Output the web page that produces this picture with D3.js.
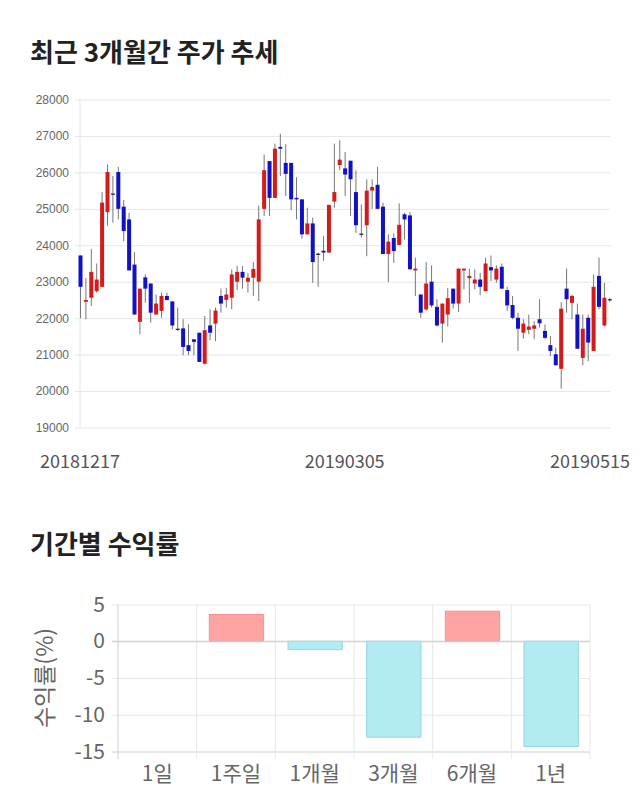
<!DOCTYPE html>
<html>
<head>
<meta charset="utf-8">
<script src="https://cdn.jsdelivr.net/npm/d3@7"></script>
<style>
  html, body { margin: 0; padding: 0; background: #fff; }
  svg { display: block; }
</style>
</head>
<body>
<svg id="chart" width="640" height="810"></svg>
<script>
// ---------- Data: candlestick (daily OHLC, 20181217 – 20190515) ----------
const opens  = [23720,22450,22560,22740,22860,24910,25420,26010,25060,24710,23470,21900,23120,22950,22100,22200,22610,22460,21710,21720,21260,21420,21600,20750,21800,21850,22610,22500,22560,23000,23270,23000,23110,23000,25000,26310,25300,26700,26260,26260,25300,25260,24300,24600,23770,23850,23800,25200,26200,26110,26320,25460,24320,24550,25500,25660,25060,23760,24200,24010,24850,24820,23310,22650,22240,23000,22310,21850,22100,22810,22400,23310,23100,22950,23060,22740,23400,23060,23410,22770,22360,22010,21600,21680,21710,21970,21650,21260,21010,20610,22810,22420,22100,20910,22010,21100,23160,21800,22520];
const highs  = [23720,23100,23900,23500,25460,26220,25900,26150,25240,24890,23810,22810,23200,22950,22650,22700,22700,22460,22290,21970,21830,21420,21600,22060,22240,22290,22810,22830,23340,23440,23430,23240,23540,25090,26490,26310,26790,27060,26770,26260,25870,25260,25030,24760,23800,24250,25110,26790,26880,26560,26320,26060,25120,25810,25810,26150,25170,24300,24330,25150,24890,24910,23660,22650,23540,23450,22520,22400,22830,22810,23360,23360,23360,23340,23240,23660,23720,23450,23500,22860,22610,22150,21970,22100,21920,22520,21830,21510,21190,22440,23360,22650,22400,22100,22100,23200,23660,22970,22560];
const lows   = [22000,21970,22330,22700,22860,24530,24620,24710,24110,23310,22100,21560,22420,21880,22100,22010,22480,21690,21650,20980,20980,20980,20800,20730,21400,21370,22150,22290,22240,22770,22810,22700,22610,22470,24800,24800,25300,25900,25350,24960,24710,24180,24300,22970,22860,23570,23800,25030,26060,25350,24800,24340,24210,23700,25000,25000,23760,22990,23520,24010,24160,23340,22610,22010,22200,22290,21770,21330,21770,22260,22170,22790,22420,22790,22630,22740,23020,22970,22810,22200,21970,21100,21440,21560,21420,21740,21420,20960,20690,20070,22150,21970,21160,20710,20820,21100,22240,21770,22450];
const closes = [22860,22500,23270,23060,25170,26010,25420,25000,24390,23310,22100,22810,22810,22150,22400,22610,22500,21800,21710,21210,21100,21350,20800,21670,21600,22210,22400,22650,23200,23270,23110,23110,23350,24710,26060,25300,26650,26650,25960,25260,25260,24300,24600,23540,23770,23800,25110,25460,26350,25940,25810,24550,24320,25500,25600,25000,23760,24100,23840,24560,24710,23340,23360,22150,22950,22350,21800,22400,22550,22400,23360,23360,23160,23060,22860,23500,23310,23360,22810,22350,22010,21710,21850,21770,21800,21860,21460,21100,20710,22260,22520,22610,21160,21710,21330,22860,22310,22560,22520];
const priceTicks = [19000,20000,21000,22000,23000,24000,25000,26000,27000,28000];
const dateLabels = [{i: 0, t: "20181217"}, {i: 49, t: "20190305"}, {i: 98, t: "20190515"}];

// ---------- Data: returns by period ----------
const periods = ["1일","1주일","1개월","3개월","6개월","1년"];
const returns = [0, 3.64, -1.14, -13.05, 4.09, -14.32];
const returnTicks = [5, 0, -5, -10, -15];

const svg = d3.select("#chart");
const KR = "'Noto Sans CJK KR', 'Noto Sans', sans-serif";

// ---------- Titles ----------
svg.append("text").attr("x", 30).attr("y", 62)
  .attr("font-family", KR).attr("font-weight", "bold").attr("font-size", 26)
  .attr("fill", "#222").text("최근 3개월간 주가 추세");
svg.append("text").attr("x", 30).attr("y", 554)
  .attr("font-family", KR).attr("font-weight", "bold").attr("font-size", 26)
  .attr("fill", "#222").text("기간별 수익률");

// ---------- Candlestick chart ----------
const cx0 = 80, cx1 = 610;
const idx = d3.range(opens.length);
const x = d3.scalePoint().domain(idx).range([80, 609.3]);
const y = d3.scaleLinear().domain([19000, 28000]).range([427.5, 99.5]);

const gTop = svg.append("g");
const yAxis = d3.axisLeft(y).tickValues(priceTicks).tickSize(-(cx1 - cx0 + 5)).tickPadding(6)
  .tickFormat(d3.format("d"));
const gy = gTop.append("g").attr("transform", `translate(${cx0 - 5},0)`).call(yAxis);
gy.select(".domain").remove();
gy.selectAll(".tick line").attr("stroke", "#e6e6e6");
gy.selectAll(".tick text").attr("font-family", "'Liberation Sans', Arial, sans-serif")
  .attr("font-size", 12).attr("fill", "#666");
gTop.append("line").attr("x1", cx0).attr("x2", cx0).attr("y1", 99.5).attr("y2", 427.5)
  .attr("stroke", "#e6e6e6");

gTop.selectAll("text.date").data(dateLabels).join("text")
  .attr("class", "date")
  .attr("x", d => Math.min(x(d.i), 630 - 40))
  .attr("y", 468)
  .attr("text-anchor", "middle")
  .attr("font-family", KR).attr("font-size", 18).attr("fill", "#555")
  .text(d => d.t);

const candleW = 4;
const cg = gTop.append("g");
cg.selectAll("line.wick").data(idx).join("line")
  .attr("class", "wick")
  .attr("x1", i => x(i) + 0.5).attr("x2", i => x(i) + 0.5)
  .attr("y1", i => y(highs[i])).attr("y2", i => y(lows[i]))
  .attr("stroke", "#777").attr("stroke-width", 1);
cg.selectAll("rect.body").data(idx).join("rect")
  .attr("class", "body")
  .attr("x", i => x(i) - candleW / 2 + 0.5)
  .attr("width", candleW)
  .attr("y", i => y(Math.max(opens[i], closes[i])))
  .attr("height", i => Math.max(1.2, Math.abs(y(opens[i]) - y(closes[i]))))
  .attr("fill", i => closes[i] > opens[i] ? "#d21c1c" : (closes[i] < opens[i] ? "#1212c4" : "#222"));

// ---------- Returns bar chart ----------
const bx0 = 118, bx1 = 590;
const xb = d3.scaleBand().domain(periods).range([bx0, bx1]).paddingInner(0.31).paddingOuter(0.155);
const yb = d3.scaleLinear().domain([-15, 5]).range([751.5, 604.5]);
const gB = svg.append("g");

const ybAxis = d3.axisLeft(yb).tickValues(returnTicks).tickSize(-(bx1 - bx0 + 6)).tickPadding(7)
  .tickFormat(d => String(d));
const gyb = gB.append("g").attr("transform", `translate(${bx0 - 6},0)`).call(ybAxis);
gyb.select(".domain").remove();
gyb.selectAll(".tick line").attr("stroke", d => d === 0 || d === -15 ? "#cfcfcf" : "#e8e8e8");
gyb.selectAll(".tick text").attr("font-family", KR).attr("font-size", 21).attr("fill", "#666");

const bounds = periods.map(p => xb(p) - xb.step() * xb.paddingInner() / 2).concat([bx1]);
gB.selectAll("line.vg").data(bounds).join("line")
  .attr("class", "vg")
  .attr("x1", d => d).attr("x2", d => d)
  .attr("y1", 604.5).attr("y2", 759)
  .attr("stroke", (d, i) => i === 0 ? "#cfcfcf" : "#e8e8e8");

gB.selectAll("rect.bar").data(periods).join("rect")
  .attr("class", "bar")
  .attr("x", p => xb(p) + 0.5)
  .attr("width", xb.bandwidth())
  .attr("y", (p, i) => yb(Math.max(0, returns[i])))
  .attr("height", (p, i) => Math.abs(yb(returns[i]) - yb(0)))
  .attr("fill", (p, i) => returns[i] >= 0 ? "#ffa3a3" : "#b2ebf2")
  .attr("stroke", (p, i) => returns[i] >= 0 ? "#f49090" : "#94d6e0")
  .attr("stroke-width", 1);

gB.append("line").attr("x1", bx0 - 6).attr("x2", bx1).attr("y1", yb(0)).attr("y2", yb(0))
  .attr("stroke", "#cfcfcf");

gB.selectAll("text.cat").data(periods).join("text")
  .attr("class", "cat")
  .attr("x", p => xb(p) + xb.bandwidth() / 2)
  .attr("y", 781)
  .attr("text-anchor", "middle")
  .attr("font-family", KR).attr("font-size", 21).attr("fill", "#666")
  .text(p => p);

svg.append("text")
  .attr("transform", "translate(53,678) rotate(-90)")
  .attr("text-anchor", "middle")
  .attr("font-family", KR).attr("font-size", 23).attr("fill", "#666")
  .text("수익률(%)");
</script>
</body>
</html>
